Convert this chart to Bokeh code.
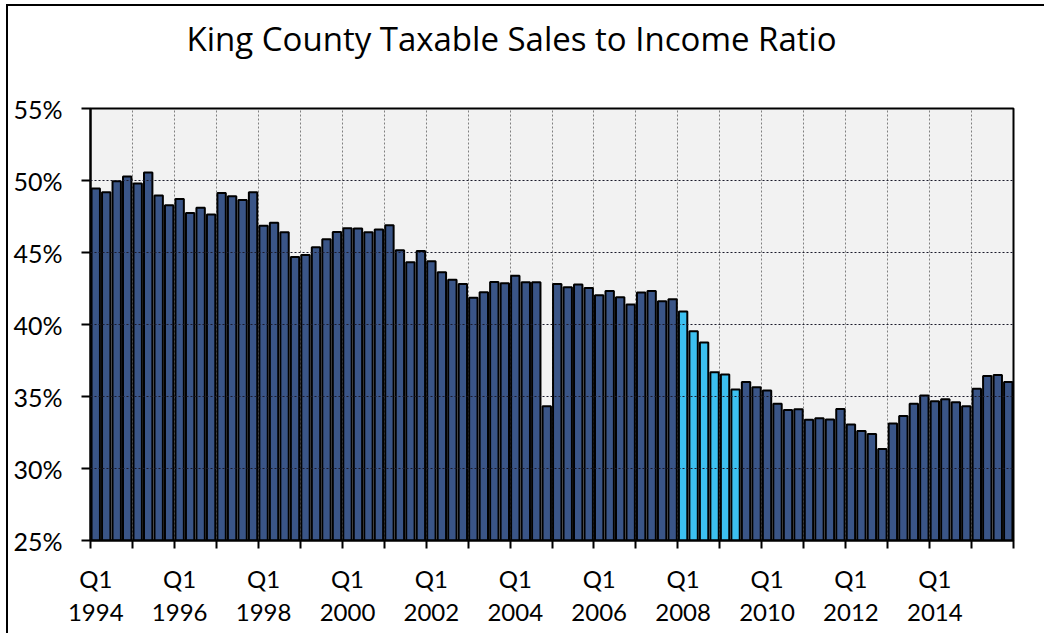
from bokeh.plotting import figure
from bokeh.models import FixedTicker, PrintfTickFormatter, ColumnDataSource, LinearAxis, Title
from bokeh.embed import file_html
from bokeh.resources import INLINE

# ---- data ----
years = list(range(1994, 2016))
quarters = ["Q1", "Q2", "Q3", "Q4"]
ratio = [
    49.44, 49.19, 49.95, 50.28,   # 1994
    49.79, 50.56, 48.96, 48.28,   # 1995
    48.72, 47.75, 48.10, 47.64,   # 1996
    49.14, 48.91, 48.65, 49.19,   # 1997
    46.85, 47.06, 46.41, 44.69,   # 1998
    44.83, 45.37, 45.92, 46.43,   # 1999
    46.69, 46.67, 46.41, 46.60,   # 2000
    46.90, 45.16, 44.33, 45.11,   # 2001
    44.40, 43.63, 43.10, 42.82,   # 2002
    41.85, 42.24, 42.96, 42.87,   # 2003
    43.38, 42.94, 42.94, 34.33,   # 2004
    42.82, 42.59, 42.78, 42.54,   # 2005
    42.03, 42.33, 41.90, 41.39,   # 2006
    42.22, 42.33, 41.62, 41.76,   # 2007
    40.90, 39.53, 38.75, 36.69,   # 2008
    36.53, 35.49, 36.01, 35.65,   # 2009
    35.42, 34.49, 34.07, 34.12,   # 2010
    33.38, 33.49, 33.40, 34.14,   # 2011
    33.06, 32.61, 32.40, 31.36,   # 2012
    33.13, 33.65, 34.49, 35.07,   # 2013
    34.67, 34.81, 34.60, 34.33,   # 2014
    35.53, 36.43, 36.50, 36.00,   # 2015
]
recession = ["2008 Q1", "2008 Q2", "2008 Q3", "2008 Q4", "2009 Q1", "2009 Q2"]
y_ticks = [25, 30, 35, 40, 45, 50, 55]
label_years = years[::2]

title_text = "King County Taxable Sales to Income Ratio"
dark = "#3A5587"
light = "#3CC0F0"
FONT = "Lato"

periods = [f"{y} {q}" for y in years for q in quarters]
xs = [i + 0.5 for i in range(len(periods))]
colors = [light if pr in recession else dark for pr in periods]
src = ColumnDataSource(dict(x=xs, top=ratio, color=colors, period=periods))

n = len(periods)
p = figure(width=1044, height=633, x_range=(0, n), y_range=(y_ticks[0], y_ticks[-1]),
           output_backend="svg", toolbar_location=None,
           min_border_left=90, min_border_right=31, min_border_top=108, min_border_bottom=93)

# spacer between plot area and title
p.add_layout(Title(text=" ", text_font_size="10px", standoff=35), "above")

p.title.text = title_text
p.title.text_font = "Open Sans"
p.title.text_font_size = "33px"
p.title.text_font_style = "normal"
p.title.text_color = "black"
p.title.align = "left"
p.title.offset = 96
p.title.standoff = 0
p.title.vertical_align = "bottom"

p.background_fill_color = "#F2F2F2"
p.border_fill_color = None
p.outline_line_color = "black"
p.outline_line_width = 2
p.styles = {"box-shadow": "inset 6px 4px 0 0 white, inset 8px 6px 0 0 black"}

p.vbar(x="x", top="top", bottom=y_ticks[0], width=0.8, source=src,
       fill_color="color", line_color="black", line_width=2)

# x axis: quarter row with year-boundary ticks
label_pos = [xs[4 * (y - years[0])] for y in label_years]
xticker = FixedTicker(ticks=label_pos, minor_ticks=[4 * k for k in range(len(years) + 1)])
p.xaxis.ticker = xticker
p.xgrid.ticker = xticker
p.xaxis.major_label_overrides = {pos: quarters[0] for pos in label_pos}
p.xaxis.major_tick_line_color = None
p.xaxis.major_tick_out = 8
p.xaxis.major_tick_in = 0
p.xaxis.minor_tick_line_color = "black"
p.xaxis.minor_tick_line_width = 2
p.xaxis.minor_tick_out = 8
p.xaxis.minor_tick_in = 0
p.xaxis.axis_line_color = "black"
p.xaxis.axis_line_width = 2
p.xaxis.major_label_text_font = FONT
p.xaxis.major_label_text_font_size = "24px"
p.xaxis.major_label_text_color = "black"
p.xaxis.major_label_standoff = 15

# x axis: year row
year_axis = LinearAxis(ticker=FixedTicker(ticks=label_pos),
                       major_label_overrides={pos: str(y) for pos, y in zip(label_pos, label_years)},
                       major_tick_line_color=None, major_tick_out=0, major_tick_in=0,
                       minor_tick_line_color=None, minor_tick_out=0, minor_tick_in=0,
                       axis_line_color=None,
                       major_label_text_font=FONT, major_label_text_font_size="24px",
                       major_label_text_color="black", major_label_standoff=8)
p.add_layout(year_axis, "below")

p.xgrid.grid_line_color = None
p.xgrid.minor_grid_line_color = "#808080"
p.xgrid.minor_grid_line_dash = "2 2"
p.xgrid.minor_grid_line_width = 1

# y axis
yticker = FixedTicker(ticks=y_ticks)
p.yaxis.ticker = yticker
p.yaxis.formatter = PrintfTickFormatter(format="%d%%")
p.yaxis.major_tick_out = 9
p.yaxis.major_tick_in = 0
p.yaxis.major_tick_line_width = 2
p.yaxis.minor_tick_line_color = None
p.yaxis.axis_line_color = "black"
p.yaxis.axis_line_width = 2
p.yaxis.major_label_text_font = FONT
p.yaxis.major_label_text_font_size = "25px"
p.yaxis.major_label_text_color = "black"
p.yaxis.major_label_standoff = 19

p.ygrid.ticker = FixedTicker(ticks=y_ticks[1:-1])
p.ygrid.grid_line_color = "#1A1A2A"
p.ygrid.grid_line_dash = "2 2"
p.ygrid.grid_line_width = 1
p.ygrid.level = "overlay"

open("out.html", "w").write(file_html(p, INLINE))
